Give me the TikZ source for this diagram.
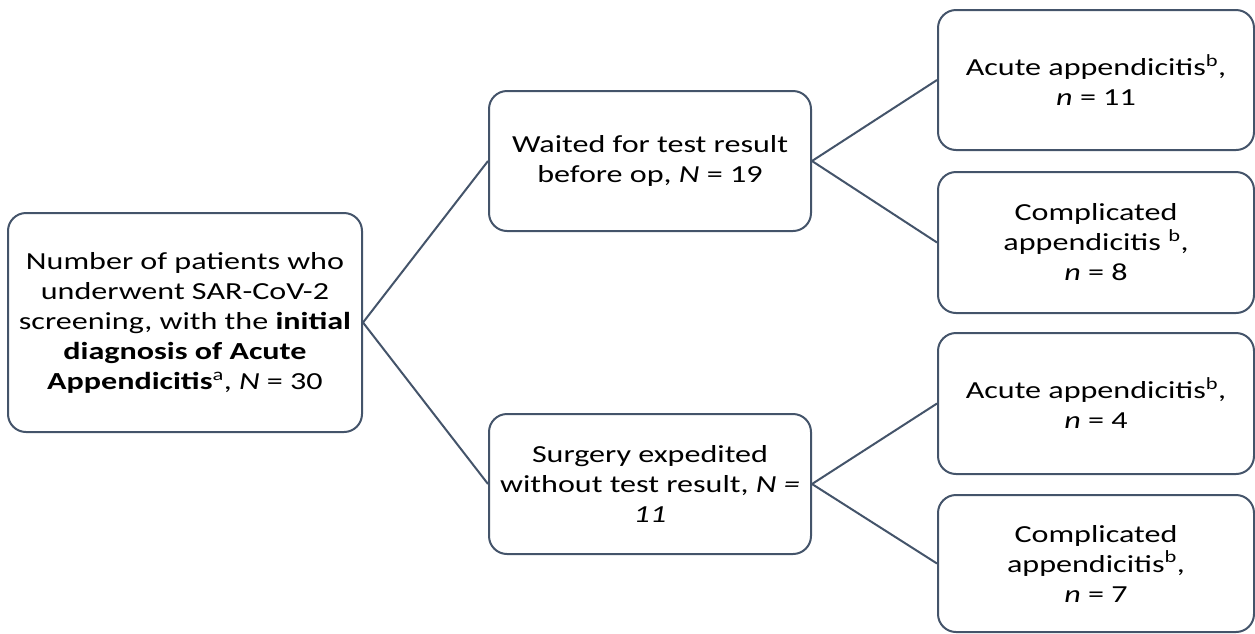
\documentclass[tikz,border=0pt]{standalone}
\usepackage{fontspec}
\setmainfont{Carlito}[FakeStretch=1.31]
\usepackage{tikz}
\usetikzlibrary{positioning, calc}

\definecolor{boxline}{HTML}{44546A}

\begin{document}
\begin{tikzpicture}[x=1pt, y=-1pt, every node/.style={draw=boxline, line width=2pt, rounded corners=18pt, align=center, inner sep=0pt, font=\fontsize{24.5}{30}\selectfont}]
        \useasboundingbox (0,0) rectangle (1255,633);

        \node (root) [minimum width=354pt, minimum height=219pt] at (185,322.5) {Number of patients who\\underwent SAR-CoV-2\\screening, with the \textbf{initial}\\\textbf{diagnosis of Acute}\\\textbf{Appendicitis}\textsuperscript{a}, \textit{N} = 30}; % Starting group
        \node (waited) [minimum width=322pt, minimum height=140pt] at (650,161) {Waited for test result\\before op, \textit{N} = 19}; % Upper branch
        \node (surgery) [minimum width=322pt, minimum height=140pt] at (650,484) {Surgery expedited\\without test result, \textit{N =}\\\textit{11}}; % Lower branch

        \node (acuteA) [minimum width=316pt, minimum height=140pt] at (1096,80) {Acute appendicitis\textsuperscript{b},\\\textit{n} = 11}; % Outcome of upper branch
        \node (compA) [minimum width=316pt, minimum height=141pt] at (1096,242.5) {Complicated\\appendicitis \textsuperscript{b},\\\textit{n} = 8}; % Outcome of upper branch
        \node (acuteB) [minimum width=316pt, minimum height=141pt] at (1096,403.5) {Acute appendicitis\textsuperscript{b},\\\textit{n} = 4}; % Outcome of lower branch
        \node (compB) [minimum width=316pt, minimum height=137pt] at (1096,563.5) {Complicated\\appendicitis\textsuperscript{b},\\\textit{n} = 7}; % Outcome of lower branch

        % Branch lines
        \foreach \i/\j in {root/waited, root/surgery, waited/acuteA, waited/compA, surgery/acuteB, surgery/compB} {
            \draw[boxline, line width=2pt] (\i.east) -- (\j.west);
        }
\end{tikzpicture}
\end{document}
